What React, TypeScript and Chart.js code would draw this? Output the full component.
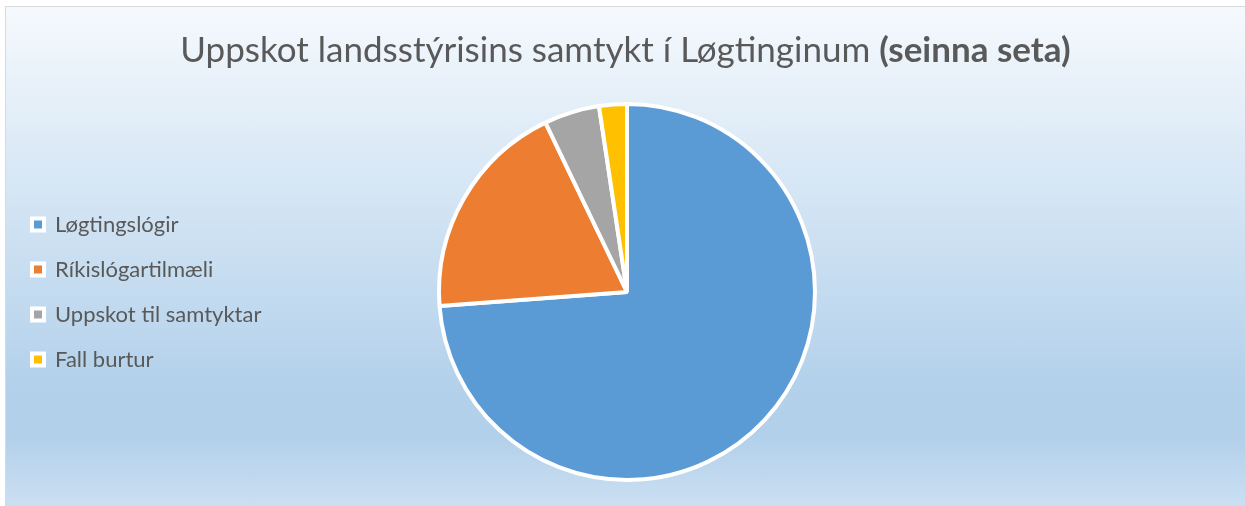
import React, { useEffect, useRef } from "react";
import { Chart, registerables } from "chart.js";

Chart.register(...registerables);

const categories = ["Løgtingslógir", "Ríkislógartilmæli", "Uppskot til samtyktar", "Fall burtur"];
const values = [31, 8, 2, 1];
const colors = ["#5B9BD5", "#ED7D31", "#A5A5A5", "#FFC000"];
const titleMain = "Uppskot landsstýrisins samtykt í Løgtinginum ";
const titleBold = "(seinna seta)";

const FONT = "Lato, 'Open Sans', sans-serif";
const LEGEND_SIZE = 22;
const LEGEND_PAD = 23;
const BOX = 12;
const W = 1239;
const H = 499;

export default function App() {
  const ref = useRef<HTMLCanvasElement | null>(null);

  useEffect(() => {
    const canvas = ref.current;
    if (!canvas) return;
    const m = document.createElement("canvas").getContext("2d")!;
    m.font = `${LEGEND_SIZE}px ${FONT}`;
    const tw = Math.max(...categories.map((c) => m.measureText(c).width));
    const legendW = LEGEND_PAD + BOX + LEGEND_SIZE / 2 + tw;
    const padL = 3;
    const padR = legendW + padL + 7;
    const chart = new Chart(canvas, {
      type: "pie",
      data: {
        labels: categories,
        datasets: [
          {
            data: values,
            backgroundColor: colors,
            borderColor: "#ffffff",
            borderWidth: 4,
          },
        ],
      },
      options: {
        responsive: false,
        animation: false,
        devicePixelRatio: 1,
        layout: { padding: { left: padL, right: padR, top: 95, bottom: 24 } },
        plugins: {
          tooltip: { enabled: false },
          title: { display: false },
          legend: {
            position: "left",
            align: "center",
            labels: {
              boxWidth: BOX,
              boxHeight: BOX,
              padding: LEGEND_PAD,
              color: "#595959",
              font: { family: FONT, size: LEGEND_SIZE },
            },
          },
        },
      },
    });
    return () => chart.destroy();
  }, []);

  return (
    <div style={{ position: "fixed", left: 0, top: 0, width: 1245, height: 506, background: "#ffffff", overflow: "hidden" }}>
      <div
        style={{
          position: "absolute",
          left: 5,
          top: 6,
          width: 1240,
          height: 500,
          boxSizing: "border-box",
          borderLeft: "1px solid #d9d9d9",
          borderTop: "1px solid #d9d9d9",
          background: "linear-gradient(180deg, #f5f9fd 0%, #b3d1eb 76%, #b2d0ea 86%, #cbdff2 100%)",
        }}
      >
        <canvas ref={ref} width={W} height={H} style={{ position: "absolute", left: 0, top: 0, width: W, height: H }} />
        <div
          style={{
            position: "absolute",
            left: 0,
            top: 21,
            width: W,
            textAlign: "center",
            fontFamily: FONT,
            fontSize: 35,
            lineHeight: "40px",
            color: "#595959",
            whiteSpace: "nowrap",
          }}
        >
          {titleMain}
          <span style={{ fontWeight: "bold" }}>{titleBold}</span>
        </div>
      </div>
    </div>
  );
}
